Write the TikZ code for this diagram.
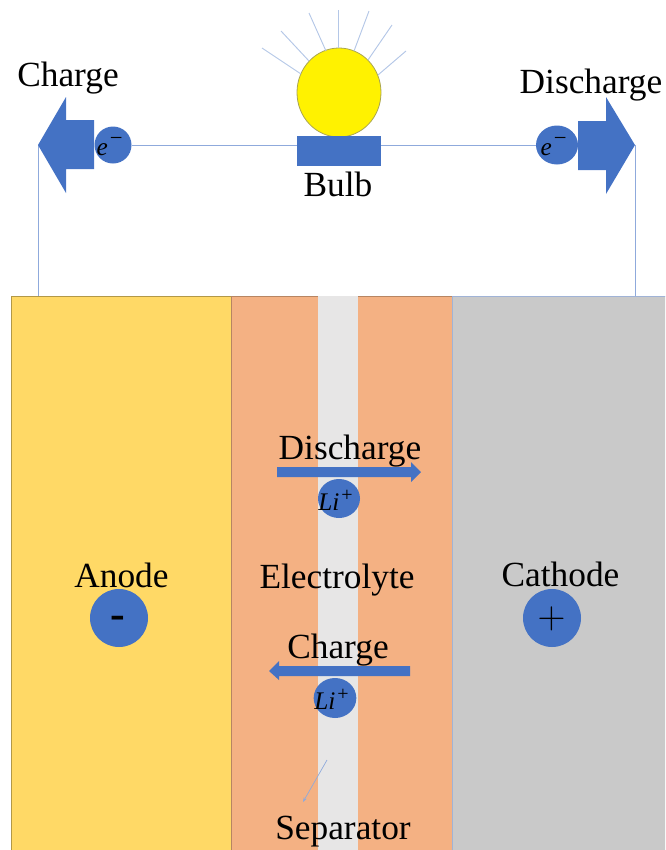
\RequirePackage{fix-cm}
\documentclass[tikz,border=0pt]{standalone}
\usepackage{fontspec}
\setmainfont{Liberation Serif}
\usetikzlibrary{shapes.geometric,arrows.meta}
\definecolor{anodeY}{HTML}{FFD966}
\definecolor{elecO}{HTML}{F4B183}
\definecolor{cathG}{HTML}{C9C9C9}
\definecolor{sepG}{HTML}{E7E6E6}
\definecolor{mainB}{HTML}{4472C4}
\definecolor{wireB}{HTML}{8FAADC}
\definecolor{rayB}{HTML}{B4C7E7}
\newcommand{\elecsym}{\textit{e}\hspace{0.08em}\raisebox{0.36em}{\fontsize{17pt}{17pt}\selectfont −}}
\newcommand{\lisym}{\textit{Li}\hspace{0.08em}\raisebox{0.34em}{\fontsize{15pt}{15pt}\selectfont +}}
\tikzset{
  x=0.75pt,y=-0.75pt,
  label text/.style={font=\fontsize{26.5pt}{30pt}\selectfont,text=black,anchor=base,inner sep=0pt,outer sep=0pt},
  blob/.style={ellipse,fill=mainB,inner sep=0pt,outer sep=0pt},
  blob text/.style={font=\fontsize{19pt}{21pt}\selectfont,text=black,inner sep=0pt,xshift=-2.6pt,yshift=-1.2pt},
  block arrow/.style={fill=mainB,draw=none},
  wire/.style={draw=wireB,line width=0.7pt},
  ray/.style={draw=rayB,line width=0.7pt},
  layer/.style={line width=0.6pt},
}
\begin{document}
\begin{tikzpicture}
\useasboundingbox (0,0) rectangle (665,850);
\clip (0,0) rectangle (665,850);
% battery layers
\path[layer,fill=anodeY,draw=anodeY!70!black] (11,296) rectangle (231,856);
\path[layer,fill=elecO,draw=elecO!75!black] (231,296) rectangle (452,856);
\path[layer,fill=cathG,draw=wireB!70!cathG] (452,296) rectangle (672,856);
\fill[sepG] (318,296) rectangle (358,852);
% junction coordinates
\coordinate (tipL) at (38,145);
\coordinate (tipR) at (635,145);
\coordinate (footL) at (38,296);
\coordinate (footR) at (635,296);
% bulb
\node[ellipse,draw=black!35!yellow!80!gray,fill=yellow,line width=0.6pt,minimum width=63pt,minimum height=66.75pt,inner sep=0pt] (globe) at (339,92.5) {};
\node[rectangle,fill=mainB,minimum width=63pt,minimum height=22.5pt,inner sep=0pt,outer sep=0pt] (base) at (339,151) {};
\foreach \i/\xa/\ya/\xb/\yb in {a/262/48/301/74,b/281/31/309/61,c/309/13/326/51,d/338/10/338/48,e/369/11/354/51,f/392/25/368/60,g/406/51/378/75}{
  \coordinate (r\i o) at (\xa,\ya);
  \coordinate (r\i i) at (\xb,\yb);
  \draw[ray] (r\i o) -- (r\i i);
}
% electron blobs
\node[blob,minimum width=27.75pt,minimum height=27.75pt,label={[blob text]center:\elecsym}] (eL) at (113,145) {};
\node[blob,minimum width=31.5pt,minimum height=29.25pt,label={[blob text]center:\elecsym}] (eR) at (557,145) {};
% wires
\draw[wire] (eL.east) -- (eL.east -| base.west);
\draw[wire] (eR.west -| base.east) -- (eR.west);
\draw[wire] (tipL) -- (footL);
\draw[wire] (tipR) -- (footR);
% big block arrows
\fill[block arrow] (tipL) -- (66,97) -- (66,120) -- (94,120) -- (94,169) -- (66,169) -- (66,193) -- cycle;
\fill[block arrow] (tipR) -- (606,97) -- (606,121) -- (578,121) -- (578,170) -- (606,170) -- (606,194) -- cycle;
% inner arrows
\fill[block arrow] (277,467) -- (411,467) -- (411,462) -- (421,472) -- (411,482) -- (411,477) -- (277,477) -- cycle;
\fill[block arrow] (410,666) -- (279,666) -- (279,661) -- (269,671) -- (279,680) -- (279,676) -- (410,676) -- cycle;
% Li blobs
\node[blob,minimum width=31.5pt,minimum height=29.25pt,label={[blob text]center:\lisym}] (liA) at (339,498.5) {};
\node[blob,minimum width=32pt,minimum height=30pt,label={[blob text]center:\lisym}] (liB) at (335,698) {};
% polarity blobs
\node[blob,minimum width=43.5pt,minimum height=43.5pt] (minus) at (119,618) {};
\node[blob,minimum width=43.5pt,minimum height=43.5pt] (plus) at (552,618) {};
\node[font=\fontsize{33pt}{34pt}\selectfont\bfseries,inner sep=0pt,anchor=base] (minusT) at (118,628.5) {-};
\node[font=\fontsize{29pt}{32pt}\selectfont,inner sep=0pt] (plusT) at (551.5,619) {$+$};
% labels
\node[label text] (tCharge) at (68,86) {Charge};
\node[label text] (tDis) at (591,93) {Discharge};
\node[label text] (tBulb) at (338,196) {Bulb};
\node[label text] (tDisIn) at (350,459) {Discharge};
\node[label text] (tElec) at (337,588) {Electrolyte};
\node[label text] (tChIn) at (338,658) {Charge};
\node[label text] (tSep) at (343,839) {Separator};
\node[label text] (tAn) at (121.5,587) {Anode};
\node[label text] (tCa) at (560.5,586) {Cathode};
% separator pointer
\coordinate (sepFrom) at (327,760);
\coordinate (sepTo) at (303,802);
\draw[draw=wireB,line width=0.5pt,-{Stealth[length=3.5pt,width=2.5pt]}] (sepFrom) -- (sepTo);
\end{tikzpicture}
\end{document}
